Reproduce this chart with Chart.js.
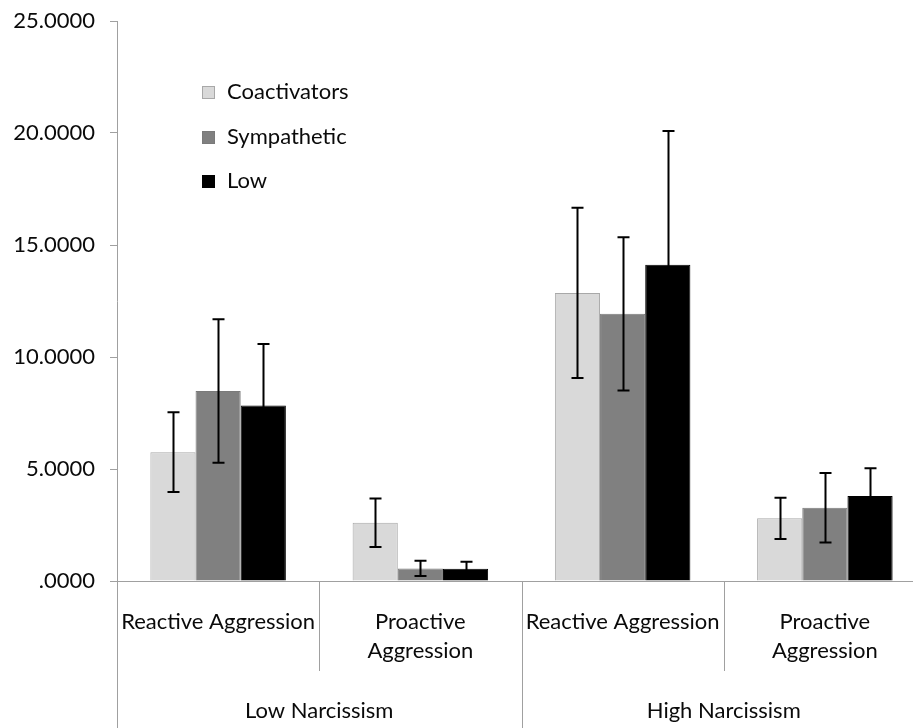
<!DOCTYPE html>
<html>
<head>
<meta charset="utf-8">
<script src="https://cdn.jsdelivr.net/npm/chart.js@4/dist/chart.umd.min.js"></script>
<style>
  html, body { margin: 0; padding: 0; background: #fff; overflow: hidden; }
  #wrap { width: 926px; height: 728px; }
</style>
</head>
<body>
<div id="wrap"><canvas id="chart" width="926" height="728"></canvas></div>
<script>
  // values
  const categories = ["Reactive Aggression", ["Proactive", "Aggression"], "Reactive Aggression", ["Proactive", "Aggression"]];
  const groups = ["Low Narcissism", "High Narcissism"];
  const coactivators = [5.75, 2.60, 12.86, 2.80];
  const coactivatorsErr = [1.78, 1.08, 3.80, 0.92];
  const sympathetic = [8.48, 0.56, 11.93, 3.27];
  const sympatheticErr = [3.20, 0.34, 3.42, 1.55];
  const low = [7.84, 0.55, 14.12, 3.79];
  const lowErr = [2.74, 0.31, 5.97, 1.24];
  const yTicks = [0, 5, 10, 15, 20, 25];

  const FONT = "Lato, 'Open Sans', sans-serif";
  const LINE = "#a0a0a0";
  const TEXT = "#0a0a0a";

  const errorBars = {
    id: "errorBars",
    afterDatasetsDraw(chart) {
      const ctx = chart.ctx;
      const y = chart.scales.y;
      ctx.save();
      ctx.strokeStyle = "#000";
      ctx.lineWidth = 2;
      chart.data.datasets.forEach((ds, di) => {
        const meta = chart.getDatasetMeta(di);
        meta.data.forEach((bar, i) => {
          const v = ds.data[i], e = ds.err[i];
          const top = y.getPixelForValue(v + e);
          const bot = y.getPixelForValue(Math.max(0, v - e));
          const x = Math.round(bar.x) + 0.5;
          ctx.beginPath();
          ctx.moveTo(x, top); ctx.lineTo(x, bot);
          ctx.moveTo(x - 6, top); ctx.lineTo(x + 6, top);
          ctx.moveTo(x - 6, bot); ctx.lineTo(x + 6, bot);
          ctx.stroke();
        });
      });
      ctx.restore();
    }
  };

  const multiAxis = {
    id: "multiAxis",
    afterDraw(chart) {
      const ctx = chart.ctx;
      const x = chart.scales.x;
      const base = chart.chartArea.bottom;
      const n = categories.length;
      const step = (x.getPixelForValue(1) - x.getPixelForValue(0));
      const edge = (i) => x.getPixelForValue(0) - step / 2 + i * step;
      ctx.save();
      ctx.strokeStyle = LINE;
      ctx.lineWidth = 1;
      for (let i = 0; i <= n; i++) {
        const px = Math.round(edge(i)) + 0.5;
        const full = i % 2 === 0;
        ctx.beginPath();
        ctx.moveTo(px, base);
        ctx.lineTo(px, full ? chart.height : base + 90);
        ctx.stroke();
      }
      ctx.fillStyle = TEXT;
      ctx.font = "22px " + FONT;
      ctx.textAlign = "center";
      ctx.textBaseline = "middle";
      categories.forEach((c, i) => {
        const cx = x.getPixelForValue(i);
        const lines = Array.isArray(c) ? c : [c];
        lines.forEach((t, k) => ctx.fillText(t, cx, base + 41 + k * 29));
      });
      groups.forEach((g, gi) => {
        const cx = (edge(gi * 2) + edge(gi * 2 + 2)) / 2;
        ctx.fillText(g, cx, base + 130);
      });
      ctx.restore();
    }
  };

  const innerLegend = {
    id: "innerLegend",
    afterDraw(chart) {
      const ctx = chart.ctx;
      ctx.save();
      ctx.font = "22px " + FONT;
      ctx.textBaseline = "middle";
      ctx.textAlign = "left";
      const rows = [92, 137, 181];
      chart.data.datasets.forEach((ds, i) => {
        const cy = rows[i];
        ctx.fillStyle = ds.backgroundColor;
        ctx.fillRect(202, cy - 6, 13, 13);
        ctx.strokeStyle = ds.borderColor;
        ctx.lineWidth = 1;
        ctx.strokeRect(202.5, cy - 5.5, 12, 12);
        ctx.fillStyle = TEXT;
        ctx.fillText(ds.label, 227, cy);
      });
      ctx.restore();
    }
  };

  new Chart(document.getElementById("chart"), {
    type: "bar",
    data: {
      labels: categories,
      datasets: [
        { label: "Coactivators", data: coactivators, err: coactivatorsErr, backgroundColor: "#d9d9d9", borderColor: "#a8a8a8", borderWidth: 1 },
        { label: "Sympathetic", data: sympathetic, err: sympatheticErr, backgroundColor: "#808080", borderColor: "#7a7a7a", borderWidth: 1 },
        { label: "Low", data: low, err: lowErr, backgroundColor: "#000000", borderColor: "#000000", borderWidth: 1 }
      ]
    },
    options: {
      responsive: false,
      animation: false,
      layout: { padding: { top: 21, right: 0, bottom: 0, left: 0 } },
      categoryPercentage: 0.67,
      barPercentage: 1,
      scales: {
        x: {
          offset: true,
          grid: { display: false },
          border: { color: LINE, width: 1 },
          ticks: { display: false },
          afterFit(s) { s.height = 147; s.paddingLeft = 0; s.paddingRight = 0; }
        },
        y: {
          min: 0, max: 25,
          afterFit(s) { s.width = 117; s.paddingTop = 0; s.paddingBottom = 0; },
          afterBuildTicks(s) { s.ticks = yTicks.map((v) => ({ value: v })); },
          grid: { drawOnChartArea: false, drawTicks: true, tickLength: 7, color: LINE },
          border: { color: LINE, width: 1 },
          ticks: {
            padding: 15,
            color: TEXT,
            font: { family: FONT, size: 22 },
            callback: (v) => v.toFixed(4).replace(/^0\./, ".")
          }
        }
      },
      plugins: { legend: { display: false }, tooltip: { enabled: false } }
    },
    plugins: [errorBars, multiAxis, innerLegend]
  });
</script>
</body>
</html>
